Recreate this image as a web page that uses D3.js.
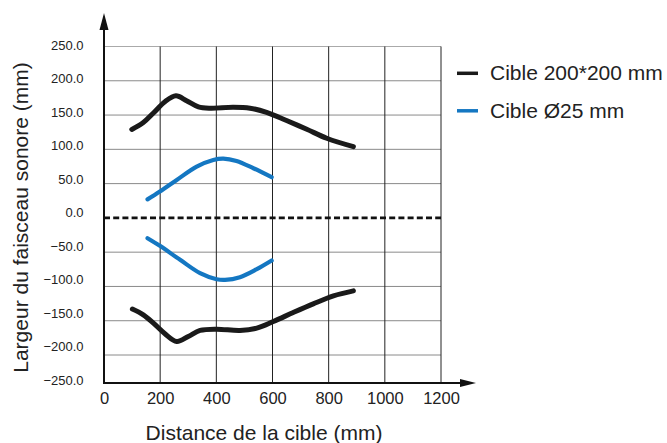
<!DOCTYPE html>
<html><head><meta charset="utf-8">
<script src="https://cdn.jsdelivr.net/npm/d3@7"></script>
<style>body{margin:0;background:#fff}svg{display:block;font-family:"Liberation Sans",Arial,sans-serif}</style>
</head><body><svg id="c" width="667" height="443"></svg>
<script>
const xTicks = [0, 200, 400, 600, 800, 1000, 1200];
const yTicks = [250, 200, 150, 100, 50, 0, -50, -100, -150, -200, -250];
const seriesNames = ["Cible 200*200 mm", "Cible Ø25 mm"];
const seriesColors = ["#1a1a1a", "#1477c2"];
const blackUpper = [[99,129],[140,139],[176,153],[217,169.5],[256,178],[294,171],[336,162],[378,160],[460,161.4],[520,160],[579,154],[650,142],[722,129.3],[793,116.2],[888,104]];
const blackLower = [[101,-133],[140,-141.4],[176,-153.5],[217,-169],[259,-180.3],[300,-173],[342,-164.2],[401,-162.3],[484,-164.2],[544,-160.8],[603,-151.1],[674,-138],[745,-125.4],[817,-113.7],[888,-106.4]];
const blueUpper = [[155,27],[199,38.4],[259,55.4],[330,74.8],[389,84.5],[425,86.5],[472,83],[532,72.4],[597,59.3]];
const blueLower = [[155,-29.6],[199,-40.8],[271,-61.2],[342,-80.6],[401,-89.4],[431,-90.4],[484,-86.5],[544,-74.8],[597,-62.2]];

const svg = d3.select("#c");
const x = d3.scaleLinear().domain([0, 1200]).range([104, 441]);
const y = d3.scaleLinear().domain([-200, 250]).range([355, 46.5]);
const yLab = d3.scaleLinear().domain([-250, 250]).range([380, 45]);
const axisY = 383;

// horizontal grid
svg.append("g").selectAll("line").data(yTicks.filter(v => v > -250 && v !== 0)).join("line")
  .attr("x1", x(0)).attr("x2", x(1200)).attr("y1", d => y(d)).attr("y2", d => y(d))
  .attr("stroke", d => d === 250 ? "#aaa" : "#8a8a8a").attr("stroke-width", 1);
// vertical grid
svg.append("g").selectAll("line").data(xTicks.slice(1)).join("line")
  .attr("x1", d => x(d)).attr("x2", d => x(d)).attr("y1", y(250)).attr("y2", axisY)
  .attr("stroke", "#222").attr("stroke-width", 1);

// zero dashed line
svg.append("line").attr("x1", x(0)).attr("x2", x(1200)).attr("y1", y(0)).attr("y2", y(0))
  .attr("stroke", "#111").attr("stroke-width", 2.6).attr("stroke-dasharray", "6,3.2");

// axes lines with arrows
svg.append("line").attr("x1", x(0)).attr("x2", x(0)).attr("y1", axisY + 1).attr("y2", 26)
  .attr("stroke", "#111").attr("stroke-width", 2);
svg.append("path").attr("d", `M${x(0)},13 L${x(0)-4.5},30 L${x(0)+4.5},30 Z`).attr("fill", "#111");
svg.append("line").attr("x1", x(0) - 1).attr("x2", 463).attr("y1", axisY).attr("y2", axisY)
  .attr("stroke", "#111").attr("stroke-width", 2);
svg.append("path").attr("d", `M476,${axisY} L460,${axisY-4} L460,${axisY+4} Z`).attr("fill", "#111");

// y tick labels
const ya = svg.append("g").attr("transform", "translate(83.5,0)")
  .call(d3.axisLeft(yLab).tickValues(yTicks).tickSize(0).tickPadding(0).tickFormat(d3.format(".1f")));
ya.select(".domain").remove();
ya.selectAll("text").attr("font-size", 13).attr("fill", "#222").attr("font-family", "Liberation Sans, Arial, sans-serif");

// x tick labels
const xa = svg.append("g").attr("transform", "translate(0,396)")
  .call(d3.axisBottom(x).tickValues(xTicks).tickSize(0).tickPadding(0).tickFormat(d3.format("d")));
xa.select(".domain").remove();
xa.selectAll("text").attr("font-size", 16.5).attr("fill", "#222").attr("dy", "0.5em").attr("font-family", "Liberation Sans, Arial, sans-serif");

// titles
svg.append("text").attr("x", 264).attr("y", 440).attr("text-anchor", "middle")
  .attr("font-size", 21).attr("fill", "#222").text("Distance de la cible (mm)");
svg.append("text").attr("transform", "translate(28,217.5) rotate(-90)").attr("text-anchor", "middle")
  .attr("font-size", 21).attr("fill", "#222").text("Largeur du faisceau sonore (mm)");

// curves
const line = d3.line().x(d => x(d[0])).y(d => y(d[1])).curve(d3.curveCatmullRom.alpha(0.5));
[[blackUpper, 0], [blackLower, 0], [blueUpper, 1], [blueLower, 1]].forEach(([data, i]) => {
  svg.append("path").attr("d", line(data)).attr("fill", "none")
    .attr("stroke", seriesColors[i]).attr("stroke-width", i === 0 ? 5 : 4.2)
    .attr("stroke-linecap", "round").attr("stroke-linejoin", "round");
});

// legend
const lg = svg.append("g");
seriesNames.forEach((n, i) => {
  const ly = 73.3 + i * 37.5;
  lg.append("line").attr("x1", 457).attr("x2", 478).attr("y1", ly).attr("y2", ly)
    .attr("stroke", seriesColors[i]).attr("stroke-width", 3.5);
  lg.append("text").attr("x", 490).attr("y", ly + 7).attr("font-size", 21).attr("fill", "#222").text(n);
});
</script></body></html>
